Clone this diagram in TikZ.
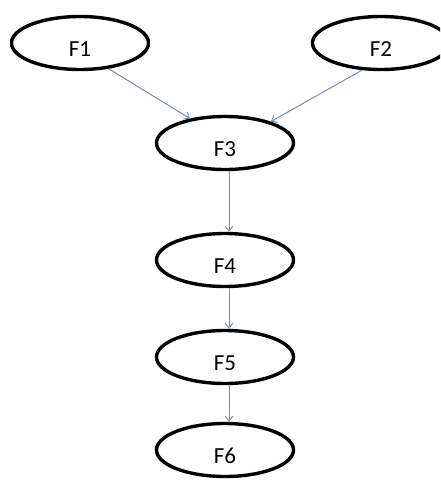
\documentclass[tikz,border=0pt]{standalone}
\usepackage{fontspec}
\setmainfont{Carlito}
\usetikzlibrary{shapes.geometric,arrows.meta}
\definecolor{linkblue}{RGB}{105,145,192}
\begin{document}
\begin{tikzpicture}[x=1pt,y=-1pt,
  fnode/.style={ellipse,draw=black,line width=3.4pt,minimum width=137pt,
    minimum height=53pt,inner sep=0pt,text height=27pt,text depth=0pt,
    font=\fontsize{23}{25}\selectfont},
  link/.style={draw=linkblue,line width=1pt,
    -{Straight Barb[length=5pt,width=8pt,line width=0.9pt]}}]
  \useasboundingbox (0,0) rectangle (440,480);
  \begin{scope}
    \clip (0,0) rectangle (440,480);
    \node[fnode] (f1) at (80,43) {F1};
    \node[fnode] (f2) at (381,43) {F2};
    \node[fnode] (f3) at (225,143) {F3};
    \node[fnode] (f4) at (225,260) {F4};
    \node[fnode] (f5) at (225,357) {F5};
    \node[fnode] (f6) at (225,450) {F6};
  \end{scope}
  \draw[link] (f1.-42) -- (f3.145);
  \draw[link] (f2.-125) -- (f3.25);
  \draw[link] ([xshift=4pt]f3.south) -- ([xshift=4pt]f4.north);
  \draw[link] ([xshift=4pt]f4.south) -- ([xshift=4pt]f5.north);
  \draw[link] ([xshift=4pt]f5.south) -- ([xshift=4pt]f6.north);
\end{tikzpicture}
\end{document}
